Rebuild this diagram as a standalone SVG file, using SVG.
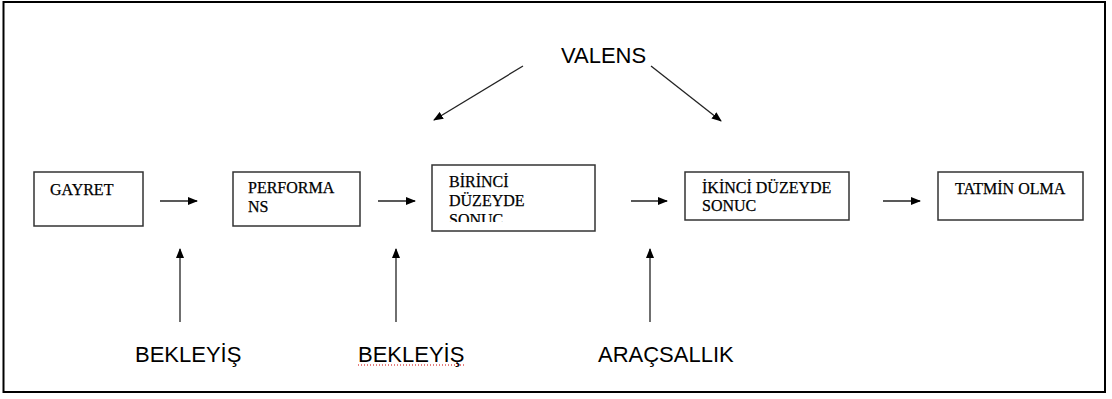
<svg xmlns="http://www.w3.org/2000/svg" width="1112" height="399" viewBox="0 0 1112 399">
<style>
.box{fill:#fff;stroke:#333;stroke-width:1.5}
.bt{font-family:"Liberation Serif","Times New Roman",serif;font-size:16px;fill:#000;stroke:#000;stroke-width:0.25}
.lbl{font-family:"Liberation Sans",Arial,sans-serif;font-size:22px;fill:#000}
.con{stroke:#222;stroke-width:1.3;fill:none;marker-end:url(#ah)}
</style>
<defs>
<marker id="ah" viewBox="0 0 10 8" refX="9" refY="4" markerWidth="10" markerHeight="8" markerUnits="userSpaceOnUse" orient="auto">
<path d="M0,0 L10,4 L0,8 Z" fill="#000"/>
</marker>
<clipPath id="clipB"><rect x="432" y="165" width="163" height="57"/></clipPath>
</defs>
<rect x="3.5" y="2" width="1101.5" height="390" fill="#fff" stroke="#000" stroke-width="2"/>
<g id="node-valens"><text class="lbl" x="561" y="63">VALENS</text></g>
<g id="node-gayret"><rect class="box" x="34" y="172" width="109" height="54"/><text class="bt" x="50" y="195">GAYRET</text></g>
<g id="node-performans"><rect class="box" x="233" y="172" width="127" height="54"/><text class="bt" x="248" y="193">PERFORMA</text><text class="bt" x="248" y="212">NS</text></g>
<g id="node-birinci"><rect class="box" x="432" y="165" width="163" height="66"/><g clip-path="url(#clipB)"><text class="bt" x="449" y="187">BİRİNCİ</text><text class="bt" x="449" y="206">DÜZEYDE</text><text class="bt" x="449" y="225">SONUC</text></g></g>
<g id="node-ikinci"><rect class="box" x="685" y="172" width="164" height="48"/><text class="bt" x="702" y="193">İKİNCİ DÜZEYDE</text><text class="bt" x="702" y="211">SONUC</text></g>
<g id="node-tatmin"><rect class="box" x="938" y="172" width="145" height="48"/><text class="bt" x="955" y="194">TATMİN OLMA</text></g>
<g id="node-bekleyis1"><text class="lbl" x="135" y="362">BEKLEYİŞ</text></g>
<g id="node-bekleyis2"><text class="lbl" x="358" y="362">BEKLEYİŞ</text><line x1="358" y1="365" x2="465" y2="365" stroke="#c00" stroke-width="1" stroke-dasharray="1,2"/></g>
<g id="node-aracsallik"><text class="lbl" x="598" y="362">ARAÇSALLIK</text></g>
<g id="connectors">
<line class="con" x1="160" y1="201" x2="197" y2="201"/>
<line class="con" x1="378" y1="201" x2="415" y2="201"/>
<line class="con" x1="631" y1="201" x2="667" y2="201"/>
<line class="con" x1="883" y1="201" x2="920" y2="201"/>
<line class="con" x1="523" y1="66" x2="434" y2="120"/>
<line class="con" x1="651" y1="66" x2="721" y2="121"/>
<line class="con" x1="180" y1="322" x2="180" y2="249"/>
<line class="con" x1="396" y1="322" x2="396" y2="249"/>
<line class="con" x1="650" y1="322" x2="650" y2="249"/>
</g>
</svg>
